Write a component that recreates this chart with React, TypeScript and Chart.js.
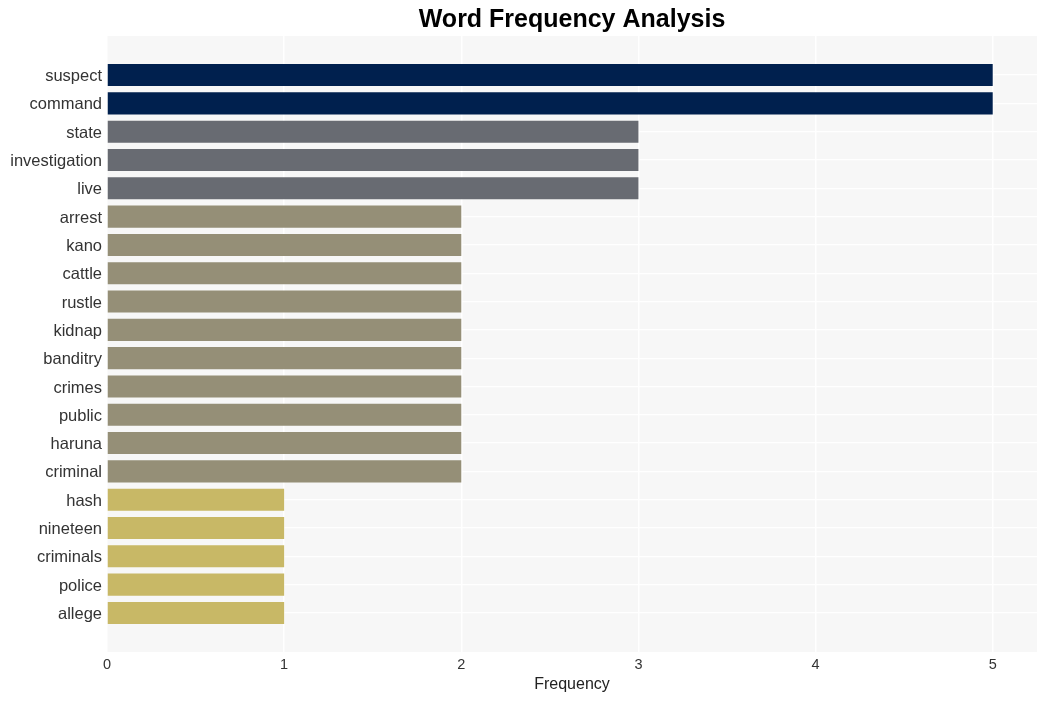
import React, { useEffect, useRef } from "react";
import { Chart, registerables } from "chart.js";

Chart.register(...registerables);

const words = [
  "suspect", "command", "state", "investigation", "live", "arrest", "kano", "cattle", "rustle",
  "kidnap", "banditry", "crimes", "public", "haruna", "criminal", "hash", "nineteen", "criminals",
  "police", "allege",
];
const counts = [5, 5, 3, 3, 3, 2, 2, 2, 2, 2, 2, 2, 2, 2, 2, 1, 1, 1, 1, 1];
const colorByCount: Record<number, string> = {
  5: "#00204e",
  3: "#686b72",
  2: "#958f77",
  1: "#c8b866",
};
const xTicks = [0, 1, 2, 3, 4, 5];
const titleText = "Word Frequency Analysis";
const xTitle = "Frequency";
const FONT = "'Liberation Sans', Arial, Helvetica, sans-serif";

export default function App() {
  const ref = useRef<HTMLCanvasElement | null>(null);

  useEffect(() => {
    document.body.style.margin = "0";
    const canvas = ref.current!;
    const bgPlugin = {
      id: "bgPlugin",
      beforeDraw(chart: any) {
        const { ctx, chartArea } = chart;
        ctx.save();
        ctx.fillStyle = "#ffffff";
        ctx.fillRect(0, 0, chart.width, chart.height);
        ctx.fillStyle = "#f7f7f7";
        ctx.fillRect(chartArea.left, chartArea.top, chartArea.right - chartArea.left, chartArea.bottom - chartArea.top);
        ctx.restore();
      },
      afterDraw(chart: any) {
        const { ctx, chartArea } = chart;
        ctx.save();
        ctx.fillStyle = "#000000";
        ctx.font = `bold 25px ${FONT}`;
        ctx.textAlign = "center";
        ctx.textBaseline = "middle";
        ctx.fillText(titleText, (chartArea.left + chartArea.right) / 2, 20);
        ctx.restore();
      },
    };

    const chart = new Chart(canvas, {
      type: "bar",
      data: {
        datasets: [
          {
            data: counts.map((c, i) => ({ x: c, y: i })),
            backgroundColor: counts.map((c) => colorByCount[c]),
            borderWidth: 0,
            barPercentage: 0.78,
            categoryPercentage: 1,
          },
        ],
      },
      options: {
        indexAxis: "y",
        animation: false,
        responsive: false,
        maintainAspectRatio: false,
        layout: { padding: { top: 36, right: 10, left: 0, bottom: 0 } },
        plugins: {
          legend: { display: false },
          title: { display: false },
          tooltip: { enabled: false },
        },
        scales: {
          x: {
            type: "linear",
            min: 0,
            max: 5.25,
            offset: false,
            afterBuildTicks: (axis: any) => {
              axis.ticks = xTicks.map((v) => ({ value: v }));
            },
            afterFit: (axis: any) => {
              axis.height = 49;
            },
            border: { display: false },
            grid: {
              drawTicks: false,
              offset: false,
              color: "#ffffff",
              lineWidth: 1.5,
            },
            ticks: {
              padding: 4,
              color: "#333333",
              font: { family: FONT, size: 14.5 },
              autoSkip: false,
              maxRotation: 0,
              callback: (v: any) => String(v),
            },
            title: {
              display: true,
              text: xTitle,
              color: "#222222",
              font: { family: FONT, size: 16 },
              padding: { top: 2, bottom: 7 },
            },
          },
          y: {
            type: "linear",
            reverse: true,
            offset: false,
            min: -1.38,
            max: words.length - 1 + 1.38,
            afterBuildTicks: (axis: any) => {
              axis.ticks = words.map((_, i) => ({ value: i }));
            },
            afterFit: (axis: any) => {
              axis.width = 107;
            },
            border: { display: false },
            grid: { drawTicks: false, offset: false, color: "#ffffff", lineWidth: 1.2 },
            ticks: {
              padding: 5,
              labelOffset: 1.5,
              color: "#333333",
              font: { family: FONT, size: 16.5 },
              autoSkip: false,
              callback: (v: any) => words[v] ?? "",
            },
          },
        },
      },
      plugins: [bgPlugin],
    } as any);
    return () => chart.destroy();
  }, []);

  return (
    <div style={{ width: 1047, height: 701 }}>
      <canvas ref={ref} width={1047} height={701} style={{ display: "block" }} />
    </div>
  );
}
